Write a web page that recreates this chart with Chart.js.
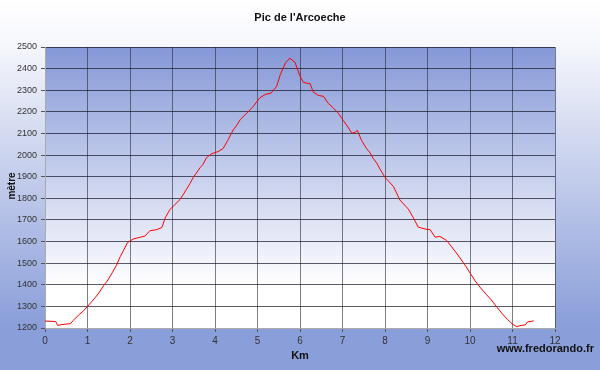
<!DOCTYPE html>
<html>
<head>
<meta charset="utf-8">
<script src="https://cdn.jsdelivr.net/npm/chart.js@4"></script>
<style>
  body { margin: 0; background: #fff; }
  canvas { display: block; }
</style>
</head>
<body>
<canvas id="profil" width="600" height="370"></canvas>
<script>
var titre = "Pic de l'Arcoeche";
var titreX = 'Km';
var titreY = 'mètre';
var signature = 'www.fredorando.fr';

var km = [0, 0.25, 0.3, 0.4, 0.6, 0.67, 0.79, 0.9, 1.0, 1.1, 1.18, 1.28, 1.38, 1.48, 1.58, 1.68, 1.77, 1.85, 1.94, 2.08, 2.24, 2.35,
  2.47, 2.63, 2.75, 2.83, 2.94, 3.06, 3.18, 3.33, 3.41, 3.49, 3.65, 3.72, 3.8, 3.92, 4.07, 4.19, 4.3,
  4.43, 4.52, 4.59, 4.75, 4.9, 5.05, 5.18, 5.32, 5.45, 5.54, 5.66, 5.76, 5.88, 6.0, 6.08, 6.24,
  6.31, 6.43, 6.55, 6.67, 6.78, 6.9, 7.02, 7.14, 7.22, 7.3, 7.35, 7.45, 7.57, 7.65, 7.72, 7.81, 7.88,
  8.0, 8.1, 8.2, 8.35, 8.55, 8.67, 8.78, 8.94, 9.06, 9.18, 9.29, 9.45, 9.57, 9.66, 9.75, 9.88, 10.0, 10.12, 10.25,
  10.38, 10.5, 10.62, 10.75, 10.88, 11.0, 11.1, 11.2, 11.3, 11.35, 11.5];
var altitude = [1232, 1230, 1212, 1216, 1220, 1236, 1260, 1278, 1300, 1322, 1340, 1366, 1396, 1422, 1455, 1490, 1530, 1560, 1595, 1612, 1620, 1625,
  1650, 1655, 1665, 1710, 1748, 1772, 1795, 1842, 1868, 1897, 1942, 1958, 1988, 2006, 2016, 2030, 2068,
  2117, 2140, 2163, 2195, 2225, 2264, 2280, 2287, 2318, 2374, 2427, 2448, 2430, 2365, 2336, 2330,
  2292, 2276, 2272, 2238, 2219, 2194, 2160, 2126, 2101, 2106, 2114, 2067, 2029, 2010, 1985, 1962, 1936,
  1897, 1876, 1854, 1792, 1750, 1709, 1667, 1658, 1655, 1620, 1624, 1605, 1575, 1552, 1528, 1492, 1455, 1418, 1385,
  1356, 1330, 1300, 1268, 1240, 1218, 1206, 1212, 1214, 1228, 1233];

var xTicks = { min: 0, max: 12, step: 1 };
var yTicks = { min: 1200, max: 2500, step: 100 };

var points = [];
for (var i = 0; i < km.length; i++) {
  points.push({ x: km[i], y: altitude[i] });
}

// fonds dégradés + textes
var decor = {
  id: 'decor',
  beforeDraw: function (chart) {
    var ctx = chart.ctx;
    var a = chart.chartArea;
    var g = ctx.createLinearGradient(0, 0, 0, chart.height);
    g.addColorStop(0, '#ffffff');
    g.addColorStop(0.12, '#f6f7fc');
    g.addColorStop(0.88, '#8a9ed9');
    g.addColorStop(1, '#8a9ed9');
    ctx.save();
    ctx.fillStyle = g;
    ctx.fillRect(0, 0, chart.width, chart.height);
    var g2 = ctx.createLinearGradient(0, a.top, 0, a.bottom);
    g2.addColorStop(0, '#8598d7');
    g2.addColorStop(0.85, '#ffffff');
    g2.addColorStop(1, '#ffffff');
    ctx.fillStyle = g2;
    ctx.fillRect(a.left, a.top, a.right - a.left, a.bottom - a.top);
    ctx.restore();
  },
  afterDraw: function (chart) {
    var ctx = chart.ctx;
    ctx.save();
    ctx.fillStyle = '#111';
    ctx.font = 'bold 11px "Liberation Sans", Arial, sans-serif';
    ctx.textAlign = 'center';
    ctx.textBaseline = 'middle';
    ctx.fillText(titre, 300, 18);
    ctx.fillText(titreX, 300, 356);
    ctx.textAlign = 'right';
    ctx.fillText(signature, 594, 349);
    ctx.translate(12, 186);
    ctx.rotate(-Math.PI / 2);
    ctx.textAlign = 'center';
    ctx.font = 'bold 10px "Liberation Sans", Arial, sans-serif';
    ctx.fillText(titreY, 0, 0);
    ctx.restore();
  }
};

var ctx = document.getElementById('profil');
var profil = new Chart(ctx, {
  type: 'scatter',
  data: {
    datasets: [{
      data: points,
      showLine: true,
      borderColor: '#ff0000',
      borderWidth: 1,
      pointRadius: 0,
      tension: 0
    }]
  },
  options: {
    responsive: false,
    devicePixelRatio: 1,
    animation: false,
    layout: { padding: { top: 47, right: 45, left: 0, bottom: 0 } },
    plugins: { legend: { display: false }, tooltip: { enabled: false } },
    scales: {
      x: {
        type: 'linear',
        min: xTicks.min,
        max: xTicks.max,
        afterFit: function (s) { s.height = 42; },
        ticks: {
          stepSize: xTicks.step, color: '#333', padding: 3,
          font: { size: 10, family: '"Liberation Sans", Arial' },
          callback: function (v) { return String(v); }
        },
        grid: { color: 'rgba(40,40,60,0.6)', tickLength: 4, tickColor: '#555' },
        border: { color: '#aaa' }
      },
      y: {
        min: yTicks.min,
        max: yTicks.max,
        afterFit: function (s) { s.width = 45; },
        ticks: {
          stepSize: yTicks.step, color: '#333', padding: 4,
          font: { size: 9, family: '"Liberation Sans", Arial' },
          callback: function (v) { return String(v); }
        },
        grid: { color: 'rgba(20,20,40,0.7)', tickLength: 4, tickColor: '#555' },
        border: { color: '#aaa' }
      }
    }
  },
  plugins: [decor]
});
</script>
</body>
</html>
